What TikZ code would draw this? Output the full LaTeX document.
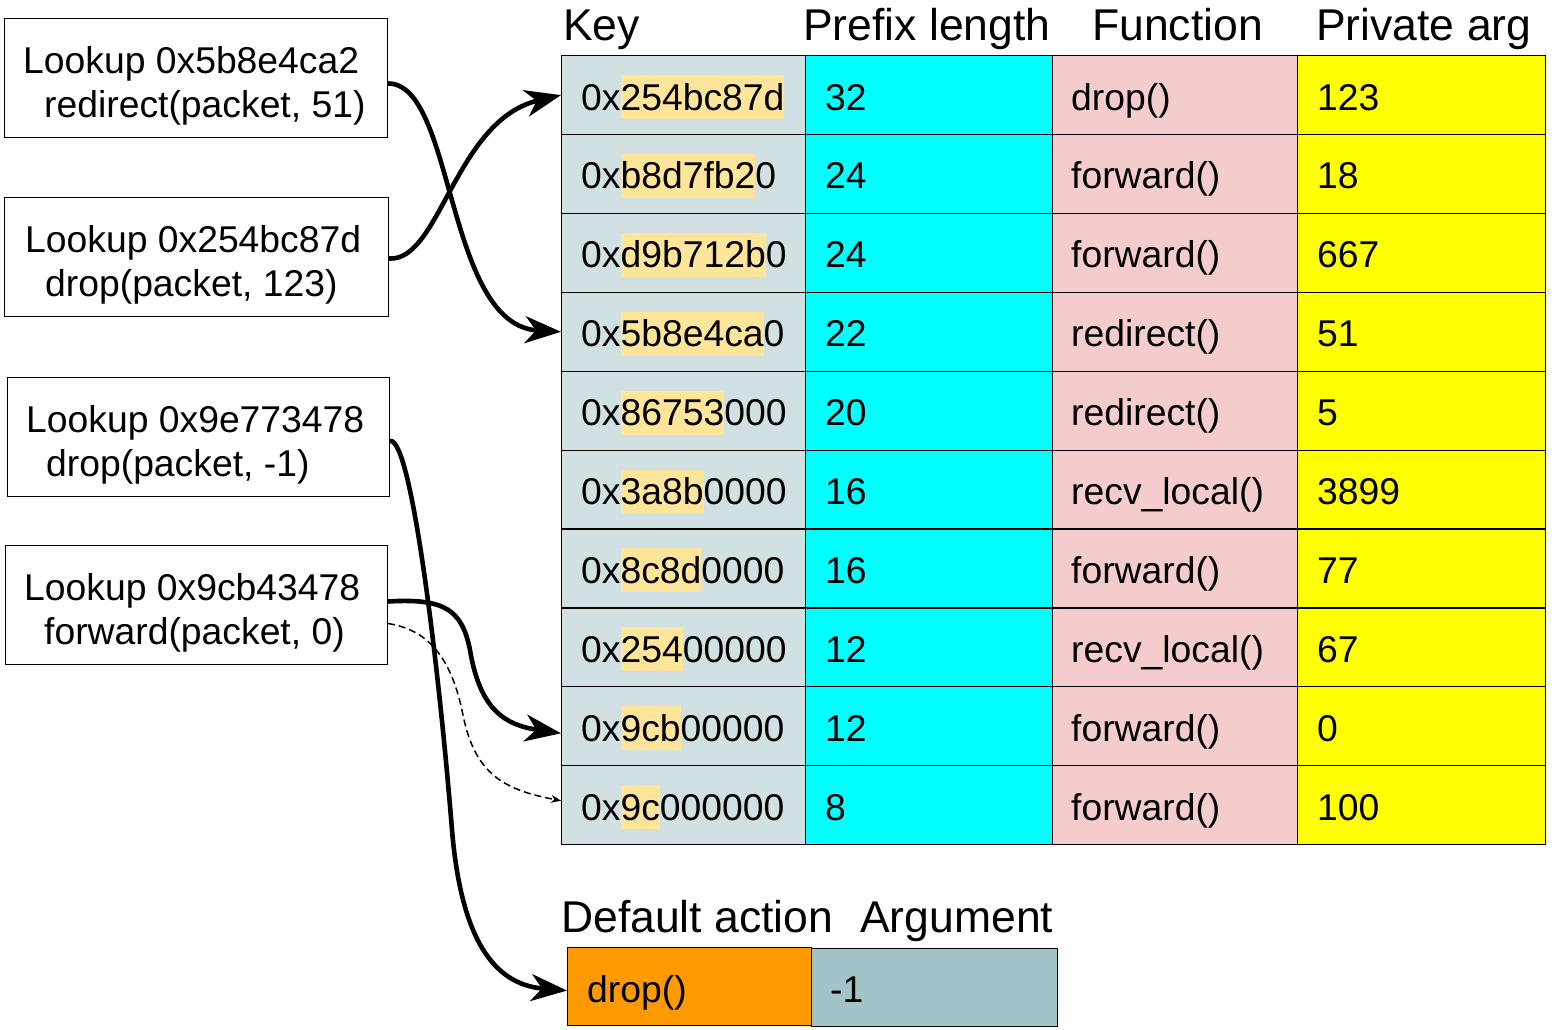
\documentclass[tikz,border=0pt]{standalone}
\usepackage{fontspec}
\setmainfont{Liberation Sans}
\usetikzlibrary{arrows.meta}
\definecolor{keybg}{HTML}{D0E0E3}
\definecolor{hlcol}{HTML}{FFE599}
\definecolor{prefbg}{HTML}{00FFFF}
\definecolor{funbg}{HTML}{F4CCCC}
\definecolor{argbg}{HTML}{FFFF00}
\definecolor{defbg}{HTML}{FF9900}
\definecolor{defarg}{HTML}{A2C4C9}
\newcommand{\hlpart}[1]{{\setlength{\fboxsep}{0pt}\colorbox{hlcol}{\rule[-9pt]{0pt}{44pt}#1}}}
\begin{document}
\begin{tikzpicture}[x=1pt,y=-1pt,
  cell/.style={draw=black,line width=1.2pt,minimum width=244pt,minimum height=79pt,inner sep=0pt,anchor=north west},
  lookbox/.style={draw=black,line width=1pt,minimum width=383pt,minimum height=119pt,inner sep=0pt,anchor=north west},
  bodytext/.style={inner sep=0pt,anchor=base west,font=\fontsize{37.3}{44}\selectfont},
  headtext/.style={inner sep=0pt,anchor=base west,font=\fontsize{44.5}{53}\selectfont},
  bigarrow/.style={line width=4.6pt,-{Stealth[length=36pt,width=27pt,inset=11pt]}},
  dasharrow/.style={line width=1.5pt,dash pattern=on 7pt off 4pt,-{Stealth[length=10pt,width=8pt]}}
]
\useasboundingbox[fill=white] (0,0) rectangle (1552,1029);

% lookup boxes
\node[lookbox] (q1) at (4,18) {};
\node[lookbox,minimum width=384pt] (q2) at (4,197) {};
\node[lookbox,minimum width=382pt] (q3) at (7,377) {};
\node[lookbox,minimum width=382pt] (q4) at (5,545) {};
\node[bodytext] (q1a) at (23,73) {Lookup 0x5b8e4ca2};
\node[bodytext] (q1b) at (44,117) {redirect(packet, 51)};
\node[bodytext] (q2a) at (25,252) {Lookup 0x254bc87d};
\node[bodytext] (q2b) at (45,296) {drop(packet, 123)};
\node[bodytext] (q3a) at (26,432) {Lookup 0x9e773478};
\node[bodytext] (q3b) at (46,476) {drop(packet, -1)};
\node[bodytext] (q4a) at (24,600) {Lookup 0x9cb43478};
\node[bodytext] (q4b) at (44,644) {forward(packet, 0)};

% headers
\node[headtext] (hk) at (563,40) {Key};
\node[headtext] (hp) at (803,40) {Prefix length};
\node[headtext] (hf) at (1092,40) {Function};
\node[headtext] (ha) at (1316,40) {Private arg};

% table
\foreach \i/\h/\r/\p/\f/\a in {
  1/254bc87d/{}/32/drop()/123,
  2/b8d7fb2/0/24/forward()/18,
  3/d9b712b/0/24/forward()/667,
  4/5b8e4ca/0/22/redirect()/51,
  5/86753/000/20/redirect()/5,
  6/3a8b/0000/16/recv\_local()/3899,
  7/8c8d/0000/16/forward()/77,
  8/254/00000/12/recv\_local()/67,
  9/9cb/00000/12/forward()/0,
  10/9c/000000/8/forward()/100}{
  \pgfmathsetmacro\ty{55+(\i-1)*78.9}
  \node[cell,fill=keybg] (k\i) at (561,\ty) {};
  \node[cell,fill=prefbg,minimum width=247pt] (p\i) at (805,\ty) {};
  \node[cell,fill=funbg,minimum width=245pt] (f\i) at (1052,\ty) {};
  \node[cell,fill=argbg,minimum width=248pt] (a\i) at (1297,\ty) {};
  \node[bodytext] (kt\i) at (581,\ty+55) {0x\hlpart{\h}\r};
  \node[bodytext] (pt\i) at (825,\ty+55) {\p};
  \node[bodytext] (ft\i) at (1071,\ty+55) {\f};
  \node[bodytext] (at\i) at (1317,\ty+55) {\a};
}

% default action
\node[headtext] (hd) at (561,932) {Default action};
\node[headtext] (hg) at (860,932) {Argument};
\node[cell,fill=defbg,minimum height=78pt] (d1) at (567,947) {};
\node[cell,fill=defarg,minimum width=246pt,minimum height=78pt] (d2) at (811,948) {};
\node[bodytext] (d1t) at (587,1002) {drop()};
\node[bodytext] (d2t) at (830,1002) {-1};

% connectors
\draw[bigarrow] ([yshift=-5.5pt]q1.east) .. controls (455,83) and (445,325) .. (k4.west);
\draw[bigarrow] ([yshift=-1.5pt]q2.east) .. controls (440,262) and (455,120) .. (k1.west);
\draw[bigarrow] ([yshift=-4pt]q3.east) .. controls (412,436) and (440,680) .. (452,830)
  .. controls (462,950) and (500,985) .. ([yshift=-4pt]d1.west);
\draw[bigarrow] ([yshift=3.5pt]q4.east) .. controls (445,598) and (462,610) .. (470,650)
  .. controls (480,710) and (505,725) .. ([yshift=-7pt]k9.west);
\draw[dasharrow] ([yshift=-18.5pt]q4.east) .. controls (430,630) and (452,660) .. (463,715)
  .. controls (475,775) and (505,790) .. ([yshift=4.5pt]k10.west);
\end{tikzpicture}
\end{document}
